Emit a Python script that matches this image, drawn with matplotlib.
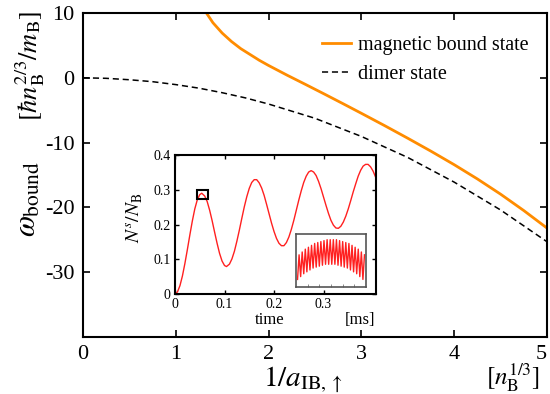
import numpy as np
import matplotlib
matplotlib.use("Agg")
import matplotlib.pyplot as plt
from matplotlib.ticker import FixedLocator, FuncFormatter

plt.rcParams["font.family"] = ["Liberation Serif", "DejaVu Serif"]
plt.rcParams["mathtext.fontset"] = "stix"
plt.rcParams["axes.unicode_minus"] = False

# main panel: bound-state energies vs inverse scattering length
dimer_x = [0, 0.25, 0.5, 0.75, 1.0, 1.25, 1.5, 1.75, 2.0, 2.5, 3.0, 3.5, 4.0, 4.5, 5.0]
dimer_y = [0, -0.08, -0.3, -0.6, -1.05, -1.6, -2.3, -3.1, -4.05, -6.25, -9.05, -12.3, -16.1, -20.4, -25.3]

mag_x = [1.33, 1.40, 1.50, 1.60, 1.70, 1.80, 1.90, 2.00, 2.20, 2.40, 2.60, 2.80,
         3.00, 3.25, 3.50, 3.75, 4.00, 4.25, 4.50, 4.75, 5.00]
mag_y = [10.0, 8.5, 6.9, 5.6, 4.5, 3.6, 2.7, 1.9, 0.4, -1.04, -2.5, -3.98,
         -5.48, -7.38, -9.33, -11.33, -13.41, -15.61, -17.96, -20.49, -23.19]

# inset: condensate fraction vs time [ms]
time_ms = [0.000, 0.005, 0.010, 0.015, 0.020, 0.025, 0.030, 0.035, 0.040, 0.045,
           0.050, 0.054, 0.060, 0.065, 0.070, 0.075, 0.080, 0.085, 0.090, 0.095,
           0.100, 0.104, 0.110, 0.115, 0.120, 0.125, 0.130, 0.135, 0.140, 0.145,
           0.150, 0.155, 0.160, 0.165, 0.170, 0.175, 0.180, 0.185, 0.190, 0.195,
           0.200, 0.205, 0.210, 0.215, 0.220, 0.225, 0.230, 0.235, 0.240, 0.245,
           0.250, 0.255, 0.260, 0.265, 0.270, 0.275, 0.280, 0.285, 0.290, 0.295,
           0.300, 0.305, 0.310, 0.315, 0.320, 0.325, 0.330, 0.335, 0.340, 0.345,
           0.350, 0.355, 0.360, 0.365, 0.370, 0.375, 0.380, 0.385, 0.390, 0.395,
           0.400, 0.405]
frac = [0.000, 0.006, 0.024, 0.052, 0.088, 0.128, 0.170, 0.210, 0.245, 0.271,
        0.286, 0.290, 0.282, 0.266, 0.241, 0.211, 0.178, 0.146, 0.117, 0.095,
        0.082, 0.079, 0.086, 0.101, 0.123, 0.152, 0.184, 0.218, 0.251, 0.280,
        0.304, 0.321, 0.329, 0.329, 0.320, 0.305, 0.284, 0.258, 0.231, 0.204,
        0.180, 0.160, 0.146, 0.139, 0.139, 0.148, 0.164, 0.186, 0.212, 0.241,
        0.270, 0.297, 0.321, 0.339, 0.351, 0.355, 0.351, 0.341, 0.324, 0.303,
        0.279, 0.255, 0.232, 0.212, 0.198, 0.190, 0.189, 0.195, 0.207, 0.224,
        0.245, 0.269, 0.294, 0.317, 0.339, 0.356, 0.368, 0.373, 0.373, 0.366,
        0.354, 0.337]

# magnified first peak (fast oscillation)
zoom_top = [0.289, 0.2905, 0.292, 0.293, 0.294, 0.295, 0.2955, 0.296, 0.2965, 0.297, 0.297,
            0.297, 0.297, 0.2965, 0.296, 0.2955, 0.295, 0.294, 0.293, 0.292, 0.2905, 0.289]
zoom_low = [0.276, 0.2775, 0.279, 0.280, 0.281, 0.282, 0.2825, 0.283, 0.2835, 0.284, 0.284,
            0.284, 0.284, 0.2835, 0.283, 0.2825, 0.282, 0.281, 0.280, 0.279, 0.2775, 0.276]
zoom_t0, zoom_t1 = 0.0445, 0.0665
box_t = (0.044, 0.067)
box_n = (0.273, 0.299)

W, H = 550, 394
fig = plt.figure(figsize=(5.5, 3.94), dpi=100)


def rect(l, t, r, b):
    return [l / W, (H - b) / H, (r - l) / W, (b - t) / H]


ax = fig.add_axes(rect(83, 13, 547, 337))
ax.plot(mag_x, mag_y, color="#ff8c00", lw=2, label="magnetic bound state")
ax.plot(dimer_x, dimer_y, color="black", lw=1.1, ls=(0, (4, 2.5)), label="dimer state")
ax.set_xlim(0, 5)
ax.set_ylim(-40, 10)
ax.set_xticks([0, 1, 2, 3, 4, 5])
ax.set_yticks([10, 0, -10, -20, -30])
ax.tick_params(direction="in", top=True, right=True, length=5, width=1.2,
               labelsize=16, pad=6)
ax.get_xticklabels()[-1].set_ha("right")
for s in ax.spines.values():
    s.set_linewidth(1.5)

leg = ax.legend(loc="upper left", bbox_to_anchor=(322 / W, (H - 36) / H),
                bbox_transform=fig.transFigure, frameon=False, fontsize=14.5,
                handlelength=1.45, handletextpad=0.35, labelspacing=0.5,
                borderpad=0, borderaxespad=0)

fig.text(303 / W, (H - 380) / H, r"$1/a_{\rm IB,\uparrow}$", fontsize=21,
         ha="center", va="center")
fig.text(513 / W, (H - 377) / H, r"$[n_{\rm B}^{1/3}]$", fontsize=18,
         ha="center", va="center")
fig.text(28 / W, (H - 199) / H, r"$\omega_{\rm bound}$", fontsize=22,
         ha="center", va="center", rotation=90)
fig.text(30 / W, (H - 66) / H, r"$[\hbar n_{\rm B}^{2/3}/m_{\rm B}]$", fontsize=19,
         ha="center", va="center", rotation=90)

# inset
ins = fig.add_axes(rect(175, 155, 376, 294))
ins.plot(time_ms, frac, color="#ff2020", lw=1.0)
ins.set_xlim(0, 0.406)
ins.set_ylim(0, 0.4)
ins.xaxis.set_major_locator(FixedLocator([0, 0.1, 0.2, 0.3]))
ins.yaxis.set_major_locator(FixedLocator([0, 0.1, 0.2, 0.3, 0.4]))
fmt = FuncFormatter(lambda v, p: "0" if abs(v) < 1e-9 else f"{v:.1f}")
ins.xaxis.set_major_formatter(fmt)
ins.yaxis.set_major_formatter(fmt)
ins.tick_params(direction="in", top=True, right=True, length=3, width=1,
                labelsize=10, pad=3)
for s in ins.spines.values():
    s.set_linewidth(1.5)
ins.add_patch(plt.Rectangle((box_t[0], box_n[0]), box_t[1] - box_t[0], box_n[1] - box_n[0],
                            fill=False, ec="black", lw=1.5, zorder=5))
fig.text(270 / W, (H - 320) / H, "time", fontsize=12, ha="center", va="center")
fig.text(360 / W, (H - 320) / H, "[ms]", fontsize=12, ha="center", va="center")
fig.text(135 / W, (H - 218) / H, r"$N^{s}/N_{\rm B}$", fontsize=14,
         ha="center", va="center", rotation=90)

# magnified view
zax = fig.add_axes(rect(296, 234, 366, 287))
zt = np.linspace(zoom_t0, zoom_t1, 2 * len(zoom_top))
zn = np.ravel(np.column_stack([zoom_low, zoom_top]))
zax.plot(zt, zn, color="#ff2020", lw=1.0)
zax.set_xlim(box_t)
zax.set_ylim(0.272, 0.300)
zax.set_xticks(np.linspace(box_t[0], box_t[1], 7)[1:-1])
zax.set_yticks([])
zax.tick_params(direction="in", length=2, width=0.6, color="#777777", labelbottom=False)
for s in zax.spines.values():
    s.set_linewidth(1.2)
    s.set_edgecolor("#555555")

ax.annotate("", xy=(296 / W, (H - 262) / H), xycoords="figure fraction",
            xytext=(206 / W, (H - 198) / H), textcoords="figure fraction",
            arrowprops=dict(arrowstyle="-|>", color="black", lw=1.2,
                            mutation_scale=9, shrinkA=0, shrinkB=0))

fig.savefig("out.png", dpi=100)
